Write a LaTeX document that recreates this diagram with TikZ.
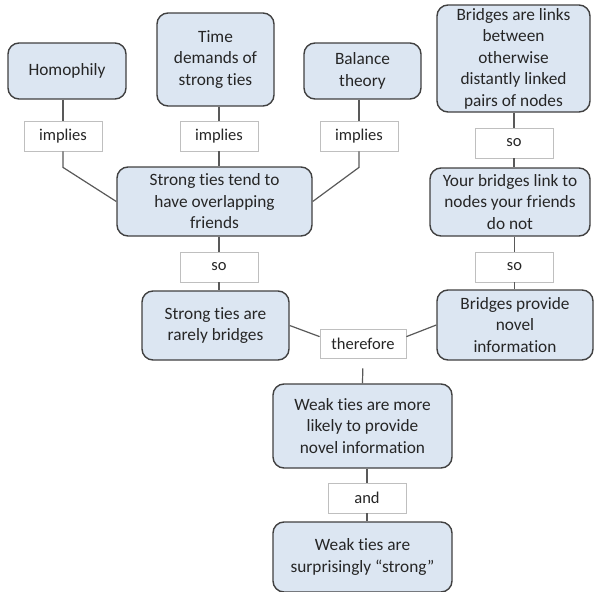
\documentclass[tikz,border=0pt]{standalone}
\usepackage{fontspec}
\setmainfont{Carlito}[Ligatures=NoCommon]
\usetikzlibrary{calc}
\definecolor{boxfill}{HTML}{DCE6F2}
\definecolor{boxline}{HTML}{404040}
\definecolor{tagline}{HTML}{BFBFBF}
\definecolor{wiregray}{HTML}{595959}
\definecolor{inkgray}{HTML}{262626}
\tikzset{
    concept/.style={draw=boxline, line width=1.4pt, fill=boxfill, rounded corners=11pt,
        align=center, inner sep=0pt, text=inkgray, font=\fontsize{17.3}{21.5}\selectfont},
    tag/.style={draw=tagline, line width=0.8pt, fill=white, minimum width=78pt,
        minimum height=30pt, inner sep=0pt, text=inkgray, font=\fontsize{16.5}{20}\selectfont},
    wire/.style={draw=wiregray, line width=1.2pt}
}
\begin{document}
\begin{tikzpicture}[x=1pt, y=-1pt]
    \useasboundingbox (0, 0) rectangle (595, 592);

    \node[concept, minimum width=118pt, minimum height=56pt] (homo) at (67, 71) {Homophily};
    \node[concept, minimum width=117pt, minimum height=93pt] (time) at (215.5, 59.5) {Time\\demands of\\strong ties};
    \node[concept, minimum width=117pt, minimum height=56pt] (balance) at (362.5, 71) {Balance\\theory};
    \node[concept, minimum width=153pt, minimum height=107pt] (links) at (513.5, 58.5) {Bridges are links\\between\\otherwise\\distantly linked\\pairs of nodes};

    \node[concept, minimum width=195pt, minimum height=69pt] (overlap) at (214.5, 201.5) {Strong ties tend to\\have overlapping\\friends};
    \node[concept, minimum width=160pt, minimum height=68pt] (yours) at (510, 202) {Your bridges link to\\nodes your friends\\do not};

    \node[concept, minimum width=147pt, minimum height=69pt] (rarely) at (215.5, 325.5) {Strong ties are\\rarely bridges};
    \node[concept, minimum width=156pt, minimum height=70pt] (novel) at (515, 325) {Bridges provide\\novel\\information};

    \node[concept, minimum width=179pt, minimum height=84pt] (weak) at (362.5, 426) {Weak ties are more\\likely to provide\\novel information};
    \node[concept, minimum width=179pt, minimum height=70pt] (strong) at (362.5, 557) {Weak ties are\\surprisingly \textquotedblleft strong\textquotedblright};

    \node[tag] (imp1) at (63, 136) {implies};
    \node[tag] (imp2) at (219, 136) {implies};
    \node[tag] (imp3) at (359, 136) {implies};
    \node[tag] (so1) at (514, 143) {so};
    \node[tag] (so2) at (219, 267) {so};
    \node[tag] (so3) at (514.5, 267) {so};
    \node[tag, minimum width=86pt, minimum height=29pt] (thus) at (363, 343.5) {therefore};
    \node[tag] (and) at (367, 498) {and};

    \draw[wire] (imp1 |- homo.south) -- (imp1.north);
    \draw[wire] (imp1.south) -- ++(0, 16) -- (overlap.west);
    \draw[wire] (imp2 |- time.south) -- (imp2.north);
    \draw[wire] (imp2.south) -- (imp2 |- overlap.north);
    \draw[wire] (imp3 |- balance.south) -- (imp3.north);
    \draw[wire] (imp3.south) -- ++(0, 16) -- (overlap.east);

    \draw[wire] (so1 |- links.south) -- (so1.north);
    \draw[wire] (so1.south) -- (so1 |- yours.north);
    \draw[wire] (so2 |- overlap.south) -- (so2.north);
    \draw[wire] (so2.south) -- (so2 |- rarely.north);
    \draw[wire] (so3 |- yours.south) -- (so3.north);
    \draw[wire] (so3.south) -- (so3 |- novel.north);

    \draw[wire] (rarely.east) -- (thus.171);
    \draw[wire] (novel.west) -- (thus.9);
    \draw[wire, shorten <=10pt] (thus.south) -- (weak.north);
    \draw[wire] (and |- weak.south) -- (and.north);
    \draw[wire] (and.south) -- (and |- strong.north);
\end{tikzpicture}
\end{document}
